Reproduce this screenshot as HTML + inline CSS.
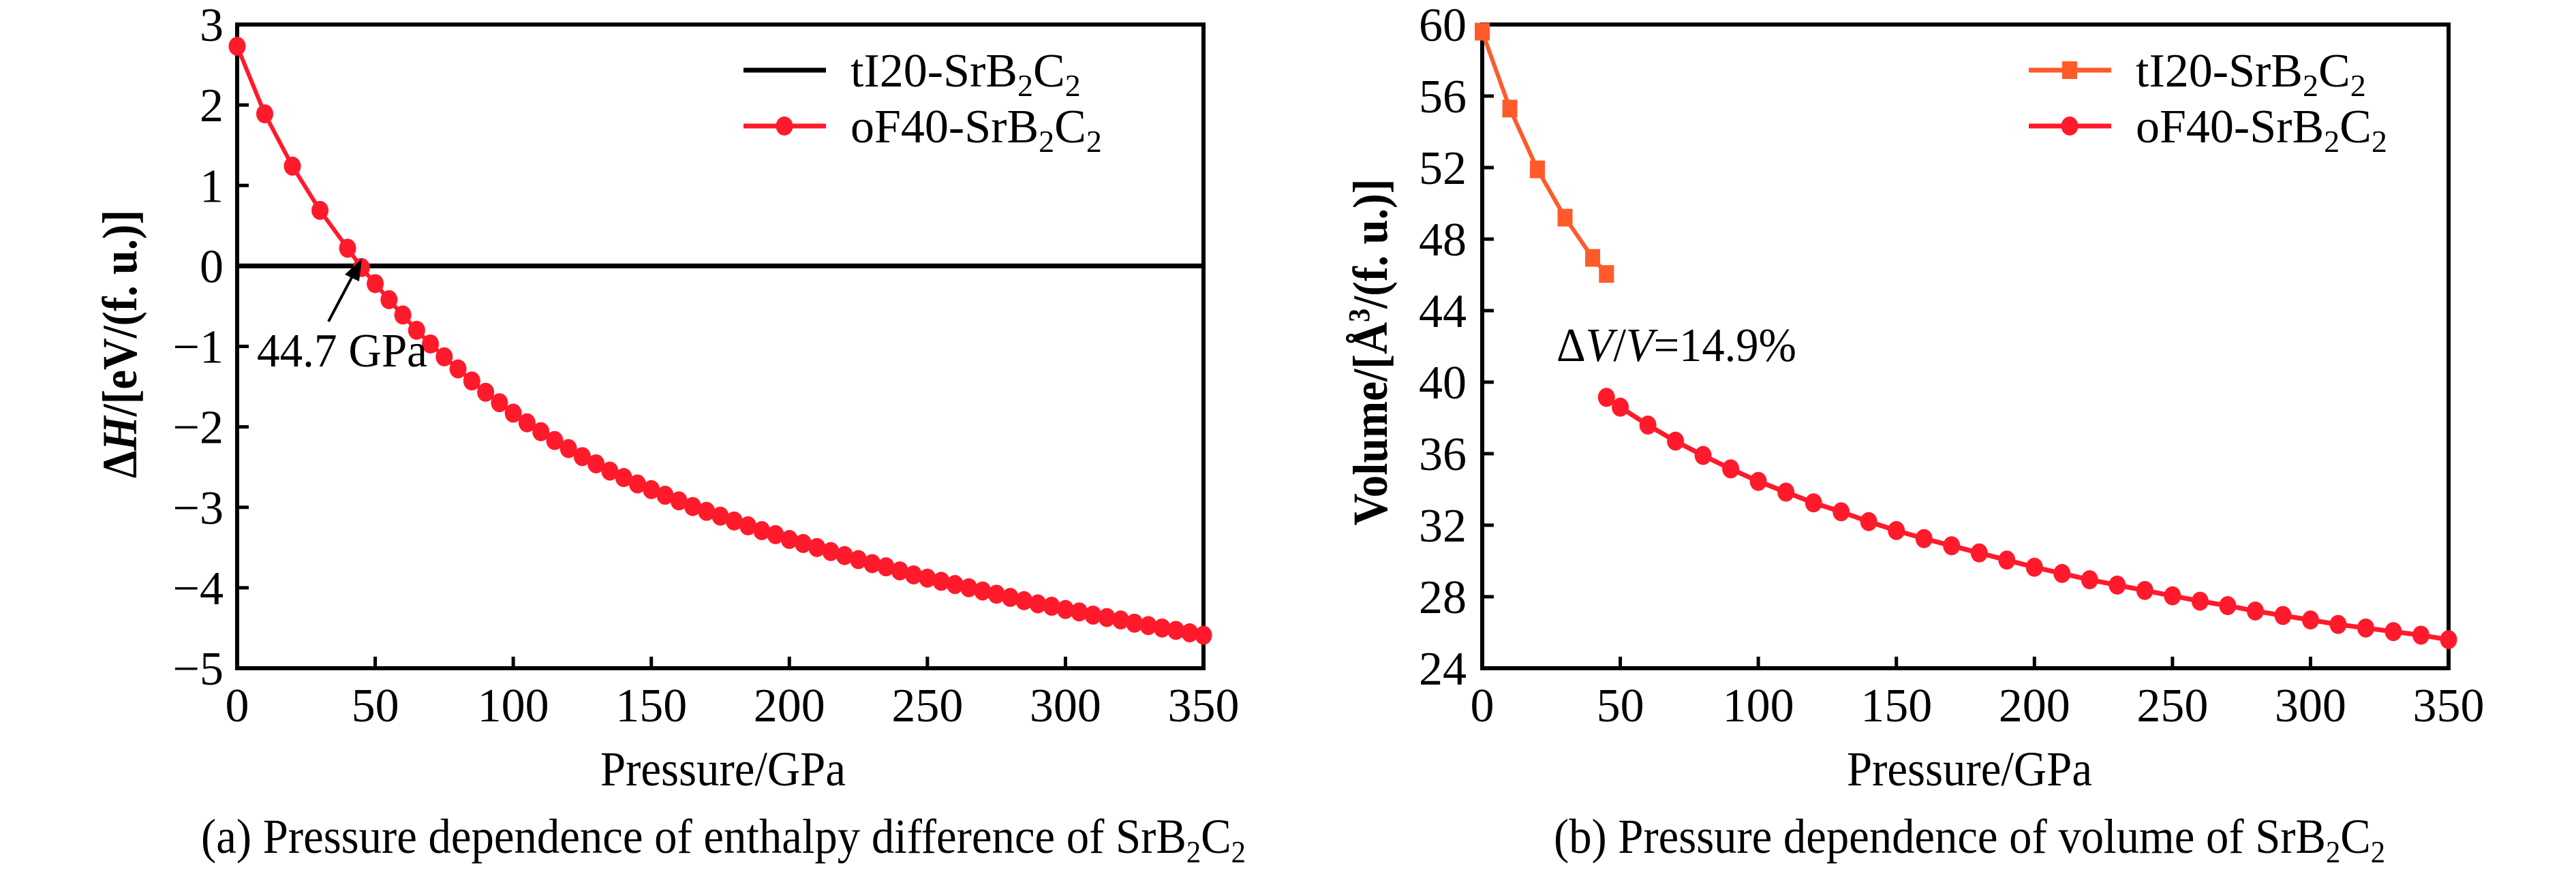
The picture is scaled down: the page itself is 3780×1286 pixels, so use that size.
<!DOCTYPE html>
<html><head><meta charset="utf-8"><style>
html,body{margin:0;padding:0;background:#fff;}
svg, svg text{font-family:"Liberation Serif","Times New Roman",Times,"Noto Serif CJK SC",serif;}
</style></head><body>
<svg id="fig" width="3780" height="1281" viewBox="0 0 3780 1281" xmlns="http://www.w3.org/2000/svg">
<g id="pa"></g>
<g id="pb"></g>
</svg>
<script>
// Panel (a) data
const aTickX = [0,50,100,150,200,250,300,350];
const aTickY = [3,2,1,0,-1,-2,-3,-4,-5];
const aP = [0,10,20,30,40,45,50,55,60,65,70,75,80,85,90,95,100,105,110,115,120,125,130,135,140,145,150,155,160,165,170,175,180,185,190,195,200,205,210,215,220,225,230,235,240,245,250,255,260,265,270,275,280,285,290,295,300,305,310,315,320,325,330,335,340,345,350];
const aH = [2.73,1.89,1.24,0.69,0.22,-0.02,-0.22,-0.42,-0.61,-0.80,-0.97,-1.13,-1.28,-1.43,-1.57,-1.70,-1.83,-1.95,-2.06,-2.17,-2.27,-2.37,-2.46,-2.55,-2.63,-2.71,-2.78,-2.85,-2.92,-2.99,-3.05,-3.11,-3.17,-3.23,-3.29,-3.34,-3.40,-3.45,-3.50,-3.55,-3.60,-3.65,-3.70,-3.74,-3.79,-3.84,-3.88,-3.92,-3.96,-4.00,-4.04,-4.08,-4.12,-4.16,-4.20,-4.23,-4.27,-4.30,-4.34,-4.37,-4.40,-4.44,-4.47,-4.50,-4.53,-4.56,-4.59];
const aRefP = [0,350];
const aRefH = [0,0];
// Panel (b) data
const bTickX = [0,50,100,150,200,250,300,350];
const bTickY = [24,28,32,36,40,44,48,52,56,60];
const bTP = [0,10,20,30,40,45];
const bTV = [59.6,55.3,51.9,49.2,46.95,46.05];
const bOP = [45,50,60,70,80,90,100,110,120,130,140,150,160,170,180,190,200,210,220,230,240,250,260,270,280,290,300,310,320,330,340,350];
const bOV = [39.15,38.6,37.6,36.7,35.9,35.15,34.45,33.85,33.25,32.75,32.2,31.7,31.25,30.85,30.45,30.05,29.65,29.3,28.95,28.65,28.35,28.05,27.75,27.5,27.2,26.95,26.7,26.45,26.25,26.05,25.85,25.6];

const NS='http://www.w3.org/2000/svg';
function mk(parent,tag,attrs){const e=document.createElementNS(NS,tag);for(const k in attrs)e.setAttribute(k,attrs[k]);parent.appendChild(e);return e;}
const RED='#ff1a2b', ORANGE='#ff5a2a';

function panel(g,cfg){
  const {x0,x1,y0,y1,xmin,xmax,ymin,ymax}=cfg;
  const sx=v=>x0+(v-xmin)/(xmax-xmin)*(x1-x0);
  const sy=v=>y1-(v-ymin)/(ymax-ymin)*(y1-y0);
  let f=mk(g,'rect',{x:x0,y:y0,width:x1-x0,height:y1-y0,fill:'none',stroke:'#000','stroke-width':6});
  
  
  cfg.tx.forEach(t=>{
    const l=mk(g,'line',{x1:sx(t),x2:sx(t),y1:y1,y2:y1-17,stroke:'#000','stroke-width':5});
    
    
    const tx=mk(g,'text',{x:sx(t),y:1059,'font-size':70,'text-anchor':'middle'});
    tx.textContent=t;
    
    
  });
  cfg.ty.forEach(t=>{
    const l=mk(g,'line',{x1:x0,x2:x0+17,y1:sy(t),y2:sy(t),stroke:'#000','stroke-width':5});
    
    
    const tx=mk(g,'text',{x:cfg.ylx,y:sy(t)+24,'font-size':70,'text-anchor':'end'});
    tx.textContent=(t<0?'\u2212'+(-t):t);
    
    
  });
  return {sx,sy};
}
function series(g,sx,sy,xs,ys,color,marker,name,lw){
  const pts=xs.map((x,i)=>sx(x)+','+sy(ys[i])).join(' ');
  const pl=mk(g,'polyline',{points:pts,fill:'none',stroke:color,'stroke-width':lw});
  
  
  if(!marker)return;
  xs.forEach((x,i)=>{
    let m;
    if(marker==='circle') m=mk(g,'ellipse',{cx:sx(x),cy:sy(ys[i]),rx:12.5,ry:14,fill:color});
    else m=mk(g,'rect',{x:sx(x)-11,y:sy(ys[i])-13,width:22,height:26,fill:color});
    
    
  });
}
function legendEntry(g,x,y,color,marker,label,lw){
  const le=mk(g,'g',{});
  
  
  mk(le,'line',{x1:x,x2:x+121,y1:y,y2:y,stroke:color,'stroke-width':lw});
  if(marker==='circle') mk(le,'ellipse',{cx:x+60,cy:y,rx:12.5,ry:14,fill:color});
  if(marker==='square') mk(le,'rect',{x:x+49,y:y-13,width:22,height:26,fill:color});
  const t=mk(le,'text',{x:x+157,y:y+24,'font-size':70});
  t.innerHTML=label+'-SrB<tspan font-size="46" dy="14">2</tspan><tspan dy="-14">C</tspan><tspan font-size="46" dy="14">2</tspan>';
}
function label(g,x,y,html,opts,name){
  const t=mk(g,'text',Object.assign({x:x,y:y,'font-size':72},opts||{}));
  t.innerHTML=html;
  
  
  return t;
}

// Panel a
const ga=document.getElementById('pa');
const A=panel(ga,{x0:348,x1:1766,y0:36,y1:981,xmin:0,xmax:350,ymin:-5,ymax:3,tx:aTickX,ty:aTickY,ylx:328});
series(ga,A.sx,A.sy,aRefP,aRefH,'#000',null,'ti20-reference',7);
series(ga,A.sx,A.sy,aP,aH,RED,'circle','of40-enthalpy',6);
legendEntry(ga,1091,103,'#000',null,'tI20',7);
legendEntry(ga,1091,185,RED,'circle','oF40',7);
const ar=mk(ga,'g',{});


mk(ar,'line',{x1:482,y1:472,x2:520,y2:400,stroke:'#000','stroke-width':4});
mk(ar,'polygon',{points:'531,380 506,403 527,413',fill:'#000'});
label(ga,377,538,'44.7 GPa',{'font-size':70,textLength:250,lengthAdjust:'spacingAndGlyphs'},'transition-pressure-label');
label(ga,0,0,'\u0394<tspan font-style="italic">H</tspan>/[eV/(f. u.)]',{'font-weight':'bold','text-anchor':'middle',transform:'translate(200,505) rotate(-90)',textLength:394,lengthAdjust:'spacingAndGlyphs','font-size':72},'y-axis-title');
label(ga,1061,1153,'Pressure/GPa',{'text-anchor':'middle',textLength:360,lengthAdjust:'spacingAndGlyphs'},'x-axis-title');
label(ga,295,1252,'(a) Pressure dependence of enthalpy difference of SrB<tspan font-size="46" dy="14">2</tspan><tspan dy="-14">C</tspan><tspan font-size="46" dy="14">2</tspan>',{textLength:1533,lengthAdjust:'spacingAndGlyphs'},'caption-a');

// Panel b
const gb=document.getElementById('pb');
const B=panel(gb,{x0:2175,x1:3593,y0:36,y1:981,xmin:0,xmax:350,ymin:24,ymax:60,tx:bTickX,ty:bTickY,ylx:2152});
series(gb,B.sx,B.sy,bTP,bTV,ORANGE,'square','ti20-volume',6);
series(gb,B.sx,B.sy,bOP,bOV,RED,'circle','of40-volume',7);
legendEntry(gb,2977,103,ORANGE,'square','tI20',7);
legendEntry(gb,2977,185,RED,'circle','oF40',7);
label(gb,2284,530,'\u0394<tspan font-style="italic">V</tspan>/<tspan font-style="italic">V</tspan>=14.9%',{'font-size':70,textLength:352,lengthAdjust:'spacingAndGlyphs'},'volume-change-label');
label(gb,0,0,'Volume/[\u00c5<tspan font-size="44" dy="-26">3</tspan><tspan dy="26">/(f. u.)]</tspan>',{'font-weight':'bold','text-anchor':'middle',transform:'translate(2035,517) rotate(-90)',textLength:509,lengthAdjust:'spacingAndGlyphs','font-size':72},'y-axis-title');
label(gb,2890,1153,'Pressure/GPa',{'text-anchor':'middle',textLength:360,lengthAdjust:'spacingAndGlyphs'},'x-axis-title');
label(gb,2280,1252,'(b) Pressure dependence of volume of SrB<tspan font-size="46" dy="14">2</tspan><tspan dy="-14">C</tspan><tspan font-size="46" dy="14">2</tspan>',{textLength:1220,lengthAdjust:'spacingAndGlyphs'},'caption-b');
</script>
</body></html>
